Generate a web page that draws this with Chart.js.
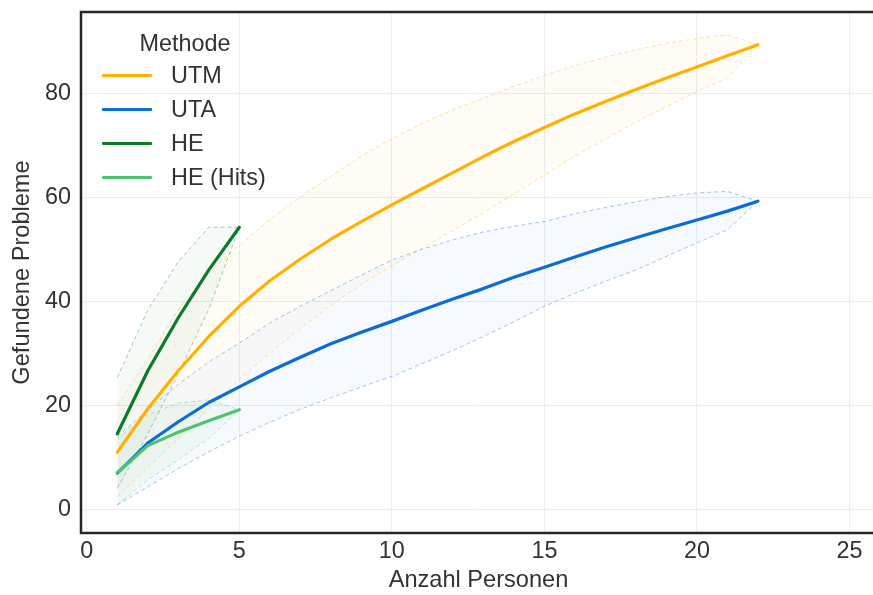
<!DOCTYPE html>
<html>
<head>
<meta charset="utf-8">
<script src="https://cdn.jsdelivr.net/npm/chart.js@4.4.0/dist/chart.umd.min.js"></script>
<style>
    html, body { margin: 0; padding: 0; background: #fff; overflow: hidden; }
    #wrap { position: relative; width: 880px; height: 595px; }
    #legend { position: absolute; left: 0; top: 0; font-family: 'Liberation Sans', Arial, sans-serif; font-size: 23.4px; color: #333; }
    #legend .title { position: absolute; left: 100px; width: 170px; top: 28.5px; line-height: 28px; text-align: center; white-space: nowrap; }
    #legend .row { position: absolute; left: 102px; height: 28px; display: flex; align-items: center; white-space: nowrap; }
    #legend .swatch { width: 50px; height: 3px; border-radius: 1px; margin-right: 19px; }
</style>
</head>
<body>
<div id="wrap">
    <canvas id="chart" width="880" height="595"></canvas>
    <div id="legend"></div>
</div>
<script>
// x values (Anzahl Personen)
const personsLong = [1, 2, 3, 4, 5, 6, 7, 8, 9, 10, 11, 12, 13, 14, 15, 16, 17, 18, 19, 20, 21, 22];
const personsShort = [1, 2, 3, 4, 5];

// UTM
const utmMean  = [10.9, 19.3, 26.6, 33.2, 39.0, 43.9, 48.1, 51.9, 55.3, 58.5, 61.6, 64.7, 67.8, 70.7, 73.4, 76.0, 78.4, 80.7, 82.9, 85.0, 87.2, 89.3];
const utmUpper = [20.0, 28.8, 38.5, 45.5, 50.8, 55.7, 60.0, 64.0, 67.9, 71.2, 74.2, 76.8, 79.0, 81.3, 83.4, 85.3, 86.9, 88.3, 89.6, 90.5, 91.2, 89.3];
const utmLower = [2.4, 8.0, 13.5, 19.3, 25.0, 30.0, 34.8, 39.2, 43.2, 46.8, 50.2, 53.6, 57.0, 60.6, 64.2, 67.9, 71.2, 74.4, 77.4, 80.3, 82.9, 89.3];

// UTA
const utaMean  = [6.9, 12.7, 16.8, 20.5, 23.5, 26.5, 29.2, 31.8, 34.0, 36.1, 38.3, 40.4, 42.4, 44.6, 46.5, 48.5, 50.4, 52.2, 53.9, 55.6, 57.3, 59.2];
const utaUpper = [14.0, 19.0, 24.0, 28.3, 31.9, 35.8, 39.0, 42.0, 45.0, 47.9, 50.0, 51.8, 53.3, 54.4, 55.3, 56.8, 58.0, 59.1, 60.1, 60.8, 61.1, 59.2];
const utaLower = [0.8, 4.3, 7.8, 11.0, 14.0, 16.7, 19.2, 21.4, 23.5, 25.5, 28.0, 30.5, 33.2, 36.0, 39.0, 41.5, 43.8, 46.0, 48.6, 51.2, 53.7, 59.2];

// HE
const heMean  = [14.5, 26.6, 36.8, 46.0, 54.2];
const heUpper = [25.3, 38.3, 47.6, 54.2, 54.2];
const heLower = [4.0, 14.5, 26.0, 38.5, 54.2];

// HE (Hits)
const hitsMean  = [7.0, 12.2, 14.8, 17.0, 19.1];
const hitsUpper = [13.6, 18.1, 20.4, 21.0, 19.1];
const hitsLower = [0.8, 5.6, 9.5, 13.6, 19.1];

const xTicks = [0, 5, 10, 15, 20, 25];
const yTicks = [0, 20, 40, 60, 80];

const legendTitle = 'Methode';
const methods = ['UTM', 'UTA', 'HE', 'HE (Hits)'];
const colors = ['#FFB000', '#0A6CD6', '#0B7A2A', '#4CC46E'];

function pts(xs, ys) {
    return xs.map((x, i) => ({x: x, y: ys[i]}));
}

function rgba(hex, a) {
    const n = parseInt(hex.slice(1), 16);
    return `rgba(${(n >> 16) & 255},${(n >> 8) & 255},${n & 255},${a})`;
}

function meanLine(label, xs, ys, color) {
    return {
        label: label, data: pts(xs, ys), borderColor: color, borderWidth: 3.2,
        pointRadius: 0, fill: false, tension: 0, borderCapStyle: 'round', borderJoinStyle: 'round'
    };
}

function bandLine(xs, ys, color, fillAlpha, isUpper) {
    return {
        label: '', data: pts(xs, ys), borderColor: rgba(color, 0.38), borderWidth: 1,
        borderDash: [4, 3], pointRadius: 0, tension: 0,
        fill: isUpper ? '+1' : false,
        backgroundColor: rgba(color, fillAlpha)
    };
}

// first dataset is drawn on top
const datasets = [
    meanLine(methods[3], personsShort, hitsMean, colors[3]),
    meanLine(methods[2], personsShort, heMean, colors[2]),
    meanLine(methods[1], personsLong, utaMean, colors[1]),
    meanLine(methods[0], personsLong, utmMean, colors[0]),
    bandLine(personsShort, hitsUpper, colors[3], 0.05, true),
    bandLine(personsShort, hitsLower, colors[3], 0.05, false),
    bandLine(personsShort, heUpper, colors[2], 0.04, true),
    bandLine(personsShort, heLower, colors[2], 0.04, false),
    bandLine(personsLong, utaUpper, colors[1], 0.035, true),
    bandLine(personsLong, utaLower, colors[1], 0.035, false),
    bandLine(personsLong, utmUpper, colors[0], 0.035, true),
    bandLine(personsLong, utmLower, colors[0], 0.035, false)
];

// frame around plot area
const framePlugin = {
    id: 'frame',
    afterDraw(chart) {
        const a = chart.chartArea;
        const ctx = chart.ctx;
        ctx.save();
        ctx.strokeStyle = '#262626';
        ctx.lineWidth = 2.5;
        ctx.strokeRect(a.left, a.top, a.right - a.left, a.bottom - a.top);
        ctx.restore();
    }
};

const font = "'Liberation Sans', Arial, sans-serif";
Chart.defaults.font.family = font;
Chart.defaults.color = '#333';

const gridStyle = {color: '#ededed', lineWidth: 1, drawTicks: false};

function noPad(s) {
    s.paddingTop = 0;
    s.paddingBottom = 0;
    s.paddingLeft = 0;
    s.paddingRight = 0;
}

new Chart(document.getElementById('chart').getContext('2d'), {
    type: 'line',
    data: {datasets: datasets},
    plugins: [framePlugin],
    options: {
        responsive: false,
        animation: false,
        devicePixelRatio: 1,
        layout: {padding: {top: 12, right: 4, left: 0, bottom: 0}},
        plugins: {legend: {display: false}, tooltip: {enabled: false}},
        scales: {
            x: {
                type: 'linear', min: -0.19, max: 25.87,
                afterBuildTicks: s => { s.ticks = xTicks.map(v => ({value: v})); },
                afterFit: s => { s.height = 62; noPad(s); },
                grid: gridStyle,
                border: {display: false},
                ticks: {padding: 5, font: {size: 23.4}, color: '#333'},
                title: {display: true, text: 'Anzahl Personen', font: {size: 23.6}, color: '#333', padding: {top: 0, bottom: 0}}
            },
            y: {
                type: 'linear', min: -4.6, max: 95.6,
                afterBuildTicks: s => { s.ticks = yTicks.map(v => ({value: v})); },
                afterFit: s => { s.width = 81; noPad(s); },
                grid: gridStyle,
                border: {display: false},
                ticks: {padding: 10, font: {size: 23.4}, color: '#333'},
                title: {display: true, text: 'Gefundene Probleme', font: {size: 23.6}, color: '#333', padding: {top: 8, bottom: 0}}
            }
        }
    }
});

// legend inside the plot, top left
const legendEl = document.getElementById('legend');
const titleEl = document.createElement('div');
titleEl.className = 'title';
titleEl.textContent = legendTitle;
legendEl.appendChild(titleEl);
const rowCenters = [75.7, 109.6, 143.5, 177.4];
methods.forEach((m, i) => {
    const row = document.createElement('div');
    row.className = 'row';
    row.style.top = (rowCenters[i] - 14) + 'px';
    row.innerHTML = `<span class="swatch" style="background:${colors[i]}"></span><span>${m}</span>`;
    legendEl.appendChild(row);
});
</script>
</body>
</html>
